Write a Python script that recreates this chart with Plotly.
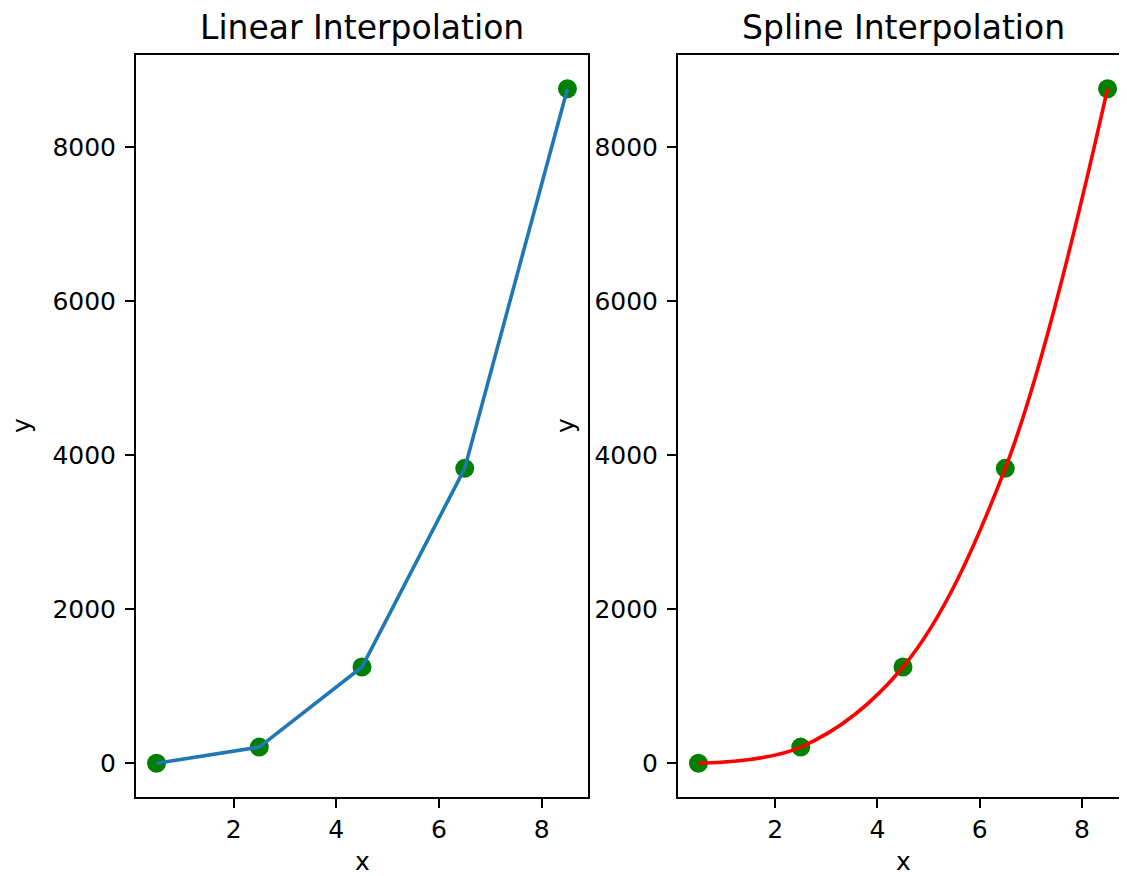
import plotly.graph_objects as go

x_points = [0.5, 2.5, 4.5, 6.5, 8.5]
y_points = [0, 210, 1250, 3830, 8760]
x_ticks = [2, 4, 6, 8]
y_ticks = [0, 2000, 4000, 6000, 8000]
titles = ["Linear Interpolation", "Spline Interpolation"]

# the page body adds an 8px offset; positions below are given in reference pixels
OFF = 8
FW, FH = 1127, 876 - OFF
FONT = "DejaVu Sans"


def fx(px):
    return (px - OFF) / FW


def fy(py):
    return 1 - (py - OFF) / FH


fig = go.Figure()

marker = dict(color="#008000", size=19, line=dict(width=0))
fig.add_trace(go.Scatter(x=x_points, y=y_points, mode="markers", marker=marker,
                         xaxis="x", yaxis="y", showlegend=False))
fig.add_trace(go.Scatter(x=x_points, y=y_points, mode="lines",
                         line=dict(color="#1f77b4", width=3.6),
                         xaxis="x", yaxis="y", showlegend=False))
fig.add_trace(go.Scatter(x=x_points, y=y_points, mode="markers", marker=marker,
                         xaxis="x2", yaxis="y2", showlegend=False))
fig.add_trace(go.Scatter(x=x_points, y=y_points, mode="lines",
                         line=dict(color="#ff0000", width=3.6, shape="spline", smoothing=1.0),
                         xaxis="x2", yaxis="y2", showlegend=False))

ydom = [fy(797), fy(55)]
xdom1 = [fx(136), fx(588)]
xdom2 = [fx(678), fx(1128)]

xr = [0.1, 8.9]
yr = [-438, 9198]

tickfont = dict(family=FONT, size=25, color="#000000")
base = dict(ticks="outside", ticklen=9, tickwidth=2, tickcolor="black",
            showline=True, linecolor="black", linewidth=2,
            showgrid=False, zeroline=False, tickfont=tickfont, automargin=False)

fig.update_layout(
    width=FW, height=FH,
    margin=dict(l=0, r=0, t=0, b=0, autoexpand=False),
    paper_bgcolor="white", plot_bgcolor="white",
    xaxis=dict(domain=xdom1, anchor="y", range=xr, tickvals=x_ticks, mirror=True, **base),
    yaxis=dict(domain=ydom, anchor="x", range=yr, tickvals=y_ticks, mirror=True,
               ticklabelstandoff=4, **base),
    xaxis2=dict(domain=xdom2, anchor="y2", range=xr, tickvals=x_ticks, mirror=True, **base),
    yaxis2=dict(domain=ydom, anchor="x2", range=yr, tickvals=y_ticks, mirror=False,
                ticklabelstandoff=4, **base),
    font=dict(family=FONT, color="black"),
)

ann = []
centers = [(xdom1[0] + xdom1[1]) / 2, (xdom2[0] + xdom2[1]) / 2]
for c, t in zip(centers, titles):
    ann.append(dict(text=t, x=c, y=fy(27), xref="paper", yref="paper",
                    xanchor="center", yanchor="middle", showarrow=False,
                    font=dict(family=FONT, size=33, color="black")))
    ann.append(dict(text="x", x=c, y=fy(861), xref="paper", yref="paper",
                    xanchor="center", yanchor="middle", showarrow=False,
                    font=dict(family=FONT, size=25, color="black")))
for px in [21, 565]:
    ann.append(dict(text="y", x=fx(px), y=(ydom[0] + ydom[1]) / 2, xref="paper", yref="paper",
                    xanchor="center", yanchor="middle", showarrow=False, textangle=-90,
                    font=dict(family=FONT, size=25, color="black")))
fig.update_layout(annotations=ann)

fig.write_html("out.html")
